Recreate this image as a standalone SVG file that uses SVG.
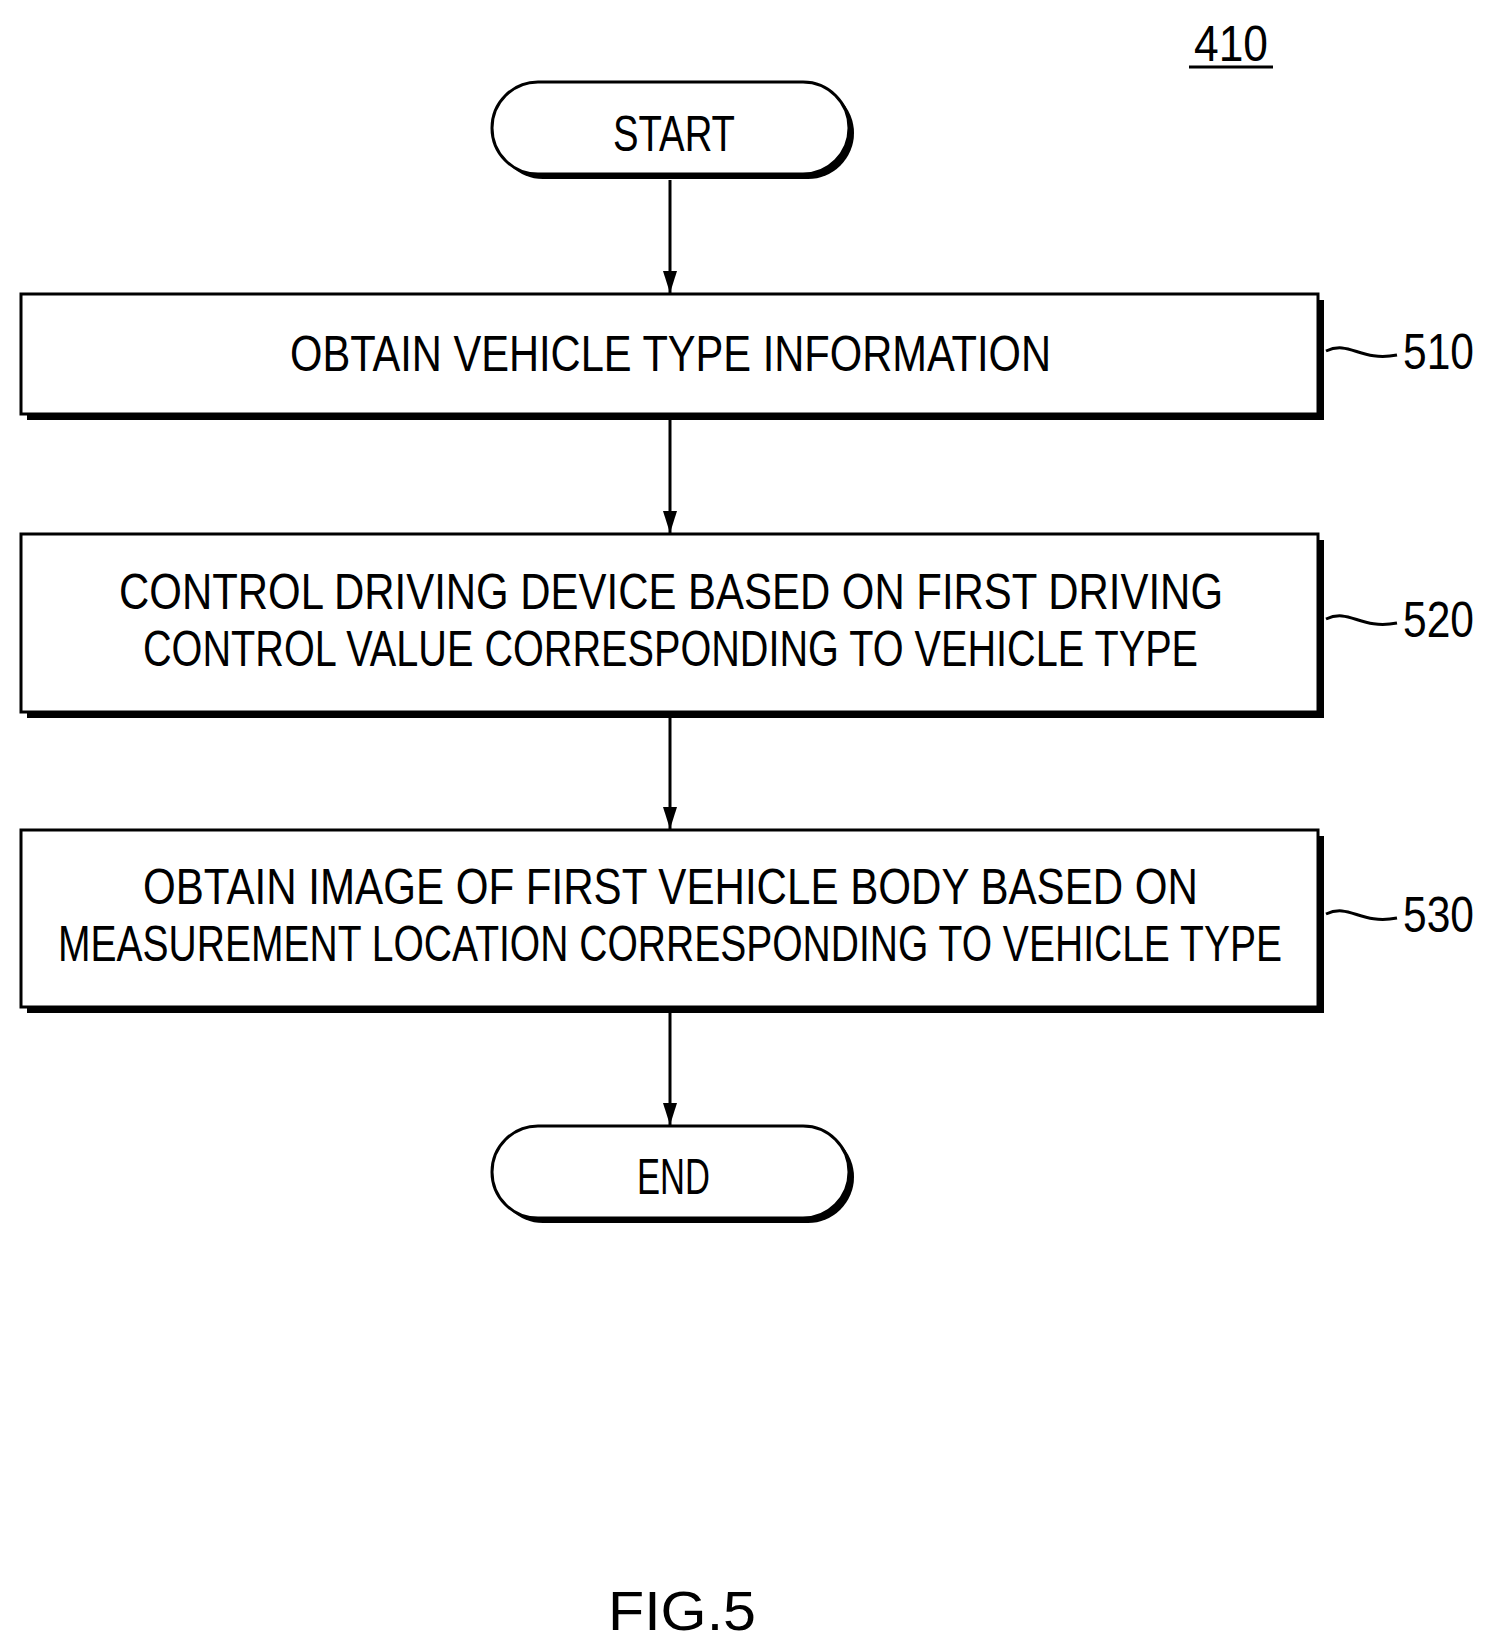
<svg xmlns="http://www.w3.org/2000/svg" width="1491" height="1650" viewBox="0 0 1491 1650">
<style>
text{font-family:"Liberation Sans",Arial,sans-serif;font-size:50px;fill:#000;text-anchor:start}
.b{fill:#fff;stroke:#000;stroke-width:3}
.s{fill:#000}
.c{stroke:#000;stroke-width:3;fill:none}
</style>
<defs><marker id="ah" markerWidth="14" markerHeight="22" refX="7" refY="22" orient="0" markerUnits="userSpaceOnUse" viewBox="0 0 14 22"><path d="M0,0 L14,0 L7,22Z" fill="#000"/></marker></defs>
<g id="ref410"><text x="1194" y="61" textLength="74" lengthAdjust="spacingAndGlyphs">410</text><line x1="1189" y1="67" x2="1273" y2="67" stroke="#000" stroke-width="3"/></g>
<g id="start"><rect x="497" y="87" width="357" height="92" rx="46" class="s"/><rect x="492" y="82" width="357" height="92" rx="46" class="b"/><text x="613" y="151" textLength="122" lengthAdjust="spacingAndGlyphs">START</text></g>
<g id="n510"><rect x="27" y="300" width="1297" height="120" class="s"/><rect x="21" y="294" width="1297" height="120" class="b"/><text x="290" y="371" textLength="761" lengthAdjust="spacingAndGlyphs">OBTAIN VEHICLE TYPE INFORMATION</text></g>
<g id="n520"><rect x="27" y="540" width="1297" height="178" class="s"/><rect x="21" y="534" width="1297" height="178" class="b"/><text x="119" y="609" textLength="1104" lengthAdjust="spacingAndGlyphs">CONTROL DRIVING DEVICE BASED ON FIRST DRIVING</text><text x="143" y="666" textLength="1055" lengthAdjust="spacingAndGlyphs">CONTROL VALUE CORRESPONDING TO VEHICLE TYPE</text></g>
<g id="n530"><rect x="27" y="836" width="1297" height="177" class="s"/><rect x="21" y="830" width="1297" height="177" class="b"/><text x="143" y="904" textLength="1055" lengthAdjust="spacingAndGlyphs">OBTAIN IMAGE OF FIRST VEHICLE BODY BASED ON</text><text x="58" y="961" textLength="1224" lengthAdjust="spacingAndGlyphs">MEASUREMENT LOCATION CORRESPONDING TO VEHICLE TYPE</text></g>
<g id="end"><rect x="497" y="1131" width="357" height="92" rx="46" class="s"/><rect x="492" y="1126" width="357" height="92" rx="46" class="b"/><text x="637" y="1194" textLength="73" lengthAdjust="spacingAndGlyphs">END</text></g>
<g id="connectors">
<line x1="670" y1="180" x2="670" y2="293" class="c" marker-end="url(#ah)"/>
<line x1="670" y1="420" x2="670" y2="533" class="c" marker-end="url(#ah)"/>
<line x1="670" y1="718" x2="670" y2="829" class="c" marker-end="url(#ah)"/>
<line x1="670" y1="1013" x2="670" y2="1125" class="c" marker-end="url(#ah)"/>
<path d="M1326,351 C1350,340 1360,362 1397,355" class="c" stroke-width="2"/>
<path d="M1326,619 C1350,608 1360,630 1397,623" class="c" stroke-width="2"/>
<path d="M1326,914 C1350,903 1360,925 1397,918" class="c" stroke-width="2"/>
</g>
<g id="labels"><text x="1403" y="369" textLength="71" lengthAdjust="spacingAndGlyphs">510</text><text x="1403" y="637" textLength="71" lengthAdjust="spacingAndGlyphs">520</text><text x="1403" y="932" textLength="71" lengthAdjust="spacingAndGlyphs">530</text>
<text x="608" y="1630" style="font-size:56px" textLength="148" lengthAdjust="spacingAndGlyphs">FIG.5</text></g>
</svg>
